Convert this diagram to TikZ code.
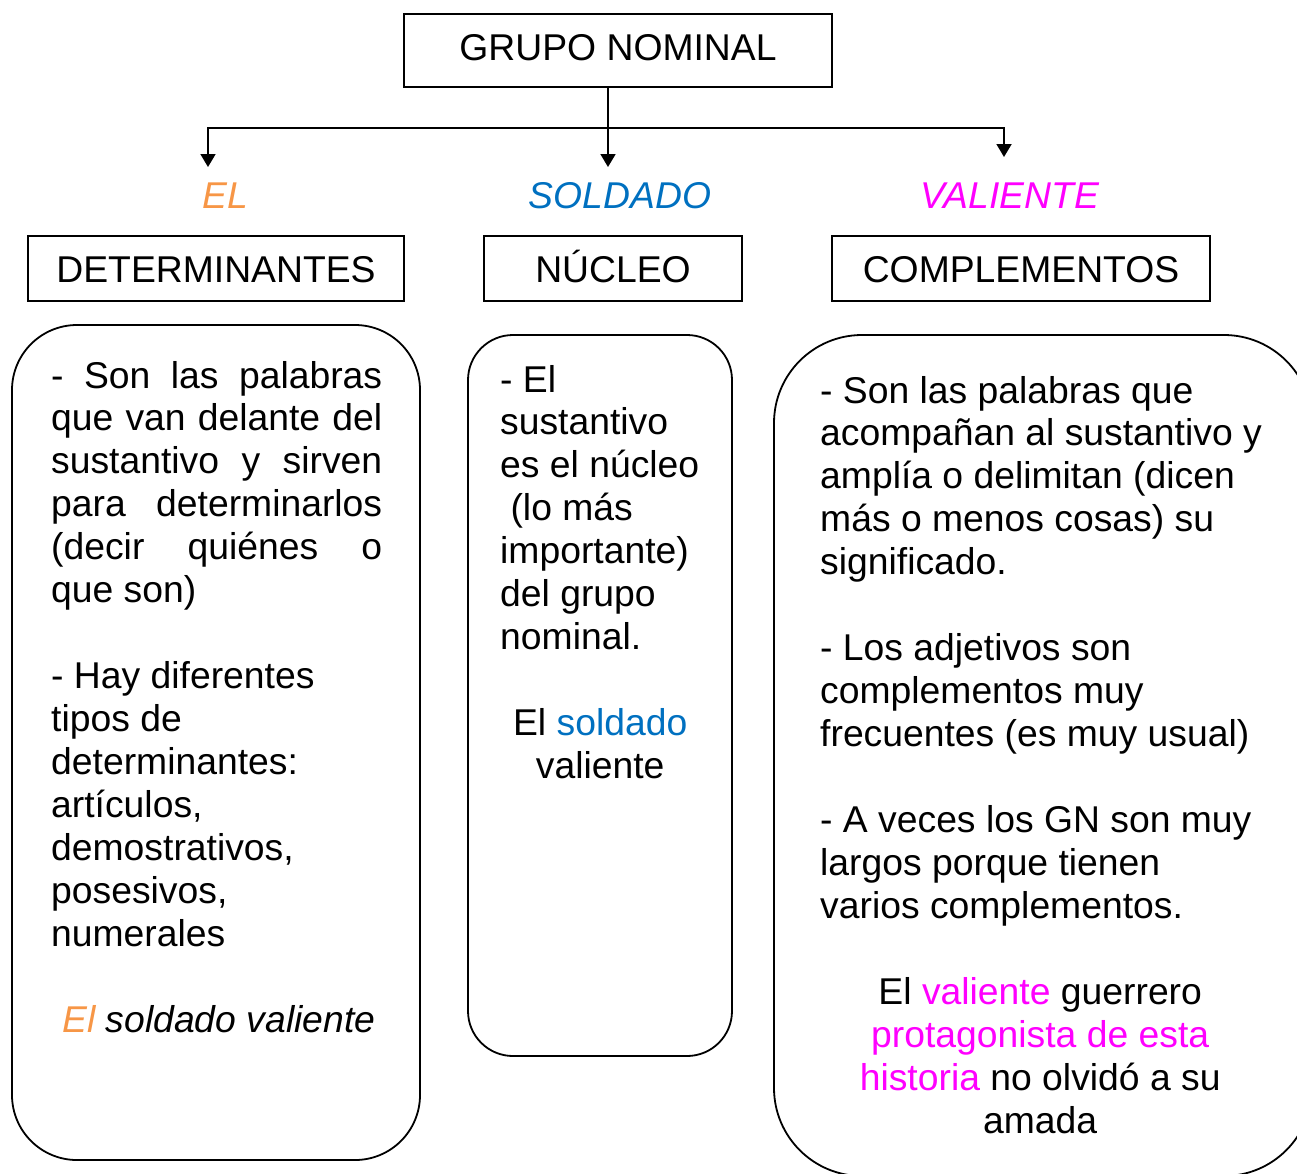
\documentclass[tikz,border=0pt]{standalone}
\usepackage{fontspec}
\setmainfont{Liberation Sans}
\usetikzlibrary{arrows.meta}
\definecolor{elorange}{HTML}{F79646}
\definecolor{soldblue}{HTML}{0070C0}
\definecolor{valmag}{HTML}{FF00FF}
\newcommand{\jline}[1]{\leavevmode\hbox to 331pt{#1}}
\newcommand{\natsp}{\spaceskip=0pt\xspaceskip=0pt\relax}
\begin{document}
\begin{tikzpicture}[x=1pt,y=-1pt,
  every node/.style={font=\fontsize{37.3}{42.95}\selectfont, inner sep=0pt},
  hbox/.style={draw, line width=1.8pt, text height=46pt, text depth=19pt, anchor=base},
  rbox/.style={draw, line width=1.8pt},
  lbl/.style={anchor=base, font=\fontsize{37.3}{42.95}\selectfont\itshape},
  body/.style={anchor=base west, align=left},
  conn/.style={line width=1.8pt, -{Triangle[length=13pt,width=15pt]}}]
\useasboundingbox (0,0) rectangle (1297,1173);
\clip (0,0) rectangle (1297,1173);

% header boxes
\node[hbox, text depth=27pt, minimum width=428pt] (gn) at (618,60) {GRUPO NOMINAL};
\node[hbox, minimum width=376pt] (det) at (216,282) {DETERMINANTES};
\node[hbox, minimum width=258pt] (nuc) at (613,282) {NÚCLEO};
\node[hbox, minimum width=378pt] (comp) at (1021,282) {COMPLEMENTOS};

% coloured labels
\node[lbl, text=elorange] (el) at (225,208) {EL};
\node[lbl, text=soldblue] (sol) at (620,208) {SOLDADO};
\node[lbl, text=valmag] (val) at (1010,208) {VALIENTE};

% connectors
\coordinate (j) at (608,128);
\coordinate (ta) at (208,167);
\coordinate (tb) at (608,167);
\coordinate (tc) at (1004,157);
\draw[conn] (gn.south -| tb) -- (tb);
\draw[conn] (j) -| (ta);
\draw[conn] (j) -| (tc);

% rounded boxes
\node[rbox, rounded corners=65pt, minimum width=408pt, minimum height=835pt] (lbox) at (216,742.5) {};
\node[rbox, rounded corners=45pt, minimum width=264pt, minimum height=721pt] (mbox) at (600,695.5) {};
\node[rbox, rounded corners=88pt, minimum width=538pt, minimum height=841pt] (rbx) at (1043,755.5) {};

% left text
\node[body, text width=360pt] (ltxt) at (51,388) {\natsp
\jline{- \hfil Son \hfil las \hfil palabras}\\
\jline{que \hfil van \hfil delante \hfil del}\\
\jline{sustantivo \hfil y \hfil sirven}\\
\jline{para \hfil determinarlos}\\
\jline{(decir \hfil quiénes \hfil o}\\
que son)\\[42.95pt]
- Hay diferentes\\
tipos de\\
determinantes:\\
artículos,\\
demostrativos,\\
posesivos,\\
numerales\\[42.95pt]
\makebox[335pt]{\itshape\textcolor{elorange}{El} soldado valiente}};

% middle text
\node[body, text width=260pt] (mtxt) at (500,392) {\natsp
- El\\
sustantivo\\
es el núcleo\\
\hspace*{0.278em}(lo más\\
importante)\\
del grupo\\
nominal.\\[42.95pt]
\makebox[200pt]{El \textcolor{soldblue}{soldado}}\\
\makebox[200pt]{valiente}};

% right text
\node[body, text width=500pt] (rtxt) at (820,403) {\natsp
- Son las palabras que\\
acompañan al sustantivo y\\
amplía o delimitan (dicen\\
más o menos cosas) su\\
significado.\\[42.95pt]
- Los adjetivos son\\
complementos muy\\
frecuentes (es muy usual)\\[42.95pt]
- A veces los GN son muy\\
largos porque tienen\\
varios complementos.\\[42.95pt]
\makebox[440pt]{El \textcolor{valmag}{valiente} guerrero}\\
\makebox[440pt]{\textcolor{valmag}{protagonista de esta}}\\
\makebox[440pt]{\textcolor{valmag}{historia} no olvidó a su}\\
\makebox[440pt]{amada}};
\end{tikzpicture}
\end{document}
